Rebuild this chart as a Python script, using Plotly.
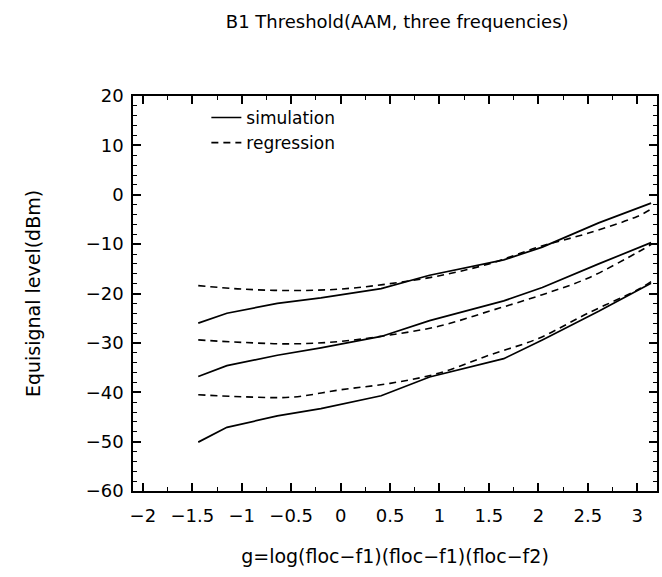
import plotly.graph_objects as go

# ---- data ----
sim_x = [-1.44, -1.15, -0.64, -0.20, 0.41, 0.90, 1.65, 2.04, 2.61, 3.14]
sim_top = [-26.0, -24.0, -22.0, -20.9, -19.0, -16.3, -13.2, -10.6, -5.7, -1.7]
sim_mid = [-36.8, -34.6, -32.5, -31.0, -28.7, -25.5, -21.5, -18.8, -14.0, -9.7]
sim_bot = [-50.1, -47.1, -44.8, -43.3, -40.7, -36.9, -33.2, -29.4, -23.6, -17.9]

reg_x = [-1.44, -1.0, -0.5, 0.0, 0.5, 1.0, 1.5, 2.0, 2.5, 3.0, 3.14]
reg_top = [-18.4, -19.1, -19.4, -19.1, -18.0, -16.4, -14.0, -10.6, -7.8, -4.4, -2.9]
reg_mid = [-29.4, -29.9, -30.2, -29.7, -28.4, -26.6, -23.6, -20.5, -16.9, -11.7, -10.1]
reg_bot = [-40.5, -40.9, -41.0, -39.5, -38.2, -36.1, -32.5, -29.1, -24.0, -19.3, -17.6]

x_ticks = [-2, -1.5, -1, -0.5, 0, 0.5, 1, 1.5, 2, 2.5, 3]
x_ticklabels = ["\u22122", "\u22121.5", "\u22121", "\u22120.5", "0", "0.5", "1", "1.5", "2", "2.5", "3"]
y_ticks = [20, 10, 0, -10, -20, -30, -40, -50, -60]
y_ticklabels = ["20", "10", "0", "\u221210", "\u221220", "\u221230", "\u221240", "\u221250", "\u221260"]

FONT = "DejaVu Sans"
fig = go.Figure()

for i, ys in enumerate([sim_top, sim_mid, sim_bot]):
    fig.add_trace(go.Scatter(x=sim_x, y=ys, mode="lines", name="simulation",
                             line=dict(color="black", width=1.7),
                             showlegend=(i == 0), legendgroup="sim"))
for i, ys in enumerate([reg_top, reg_mid, reg_bot]):
    fig.add_trace(go.Scatter(x=reg_x, y=ys, mode="lines", name="regression",
                             line=dict(color="black", width=1.6, dash="7px,5px"),
                             line_shape="spline",
                             showlegend=(i == 0), legendgroup="reg"))

axis_common = dict(showgrid=False, zeroline=False, showline=True, linecolor="black",
                   linewidth=1.5, mirror="ticks", ticks="inside", ticklen=8,
                   tickwidth=1.5, tickcolor="black",
                   tickfont=dict(family=FONT, size=18, color="black"))

fig.update_xaxes(range=[-2.1, 3.2], tickvals=x_ticks, ticktext=x_ticklabels,
                 ticklabelstandoff=8,
                 minor=dict(dtick=0.25, tick0=0, ticks="inside", ticklen=4, tickcolor="black", tickwidth=1.2),
                 title=dict(text="g=log(floc\u2212f1)(floc\u2212f1)(floc\u2212f2)",
                            font=dict(family=FONT, size=19, color="black"), standoff=24),
                 **axis_common)
fig.update_yaxes(range=[-60, 20], tickvals=y_ticks, ticktext=y_ticklabels,
                 ticklabelstandoff=4,
                 minor=dict(dtick=2, tick0=0, ticks="inside", ticklen=4, tickcolor="black", tickwidth=1.2),
                 title=dict(text="Equisignal level(dBm)",
                            font=dict(family=FONT, size=19, color="black"), standoff=40),
                 **axis_common)

fig.update_layout(
    width=662, height=577,
    paper_bgcolor="white", plot_bgcolor="white",
    margin=dict(l=133, r=3, t=96, b=86),
    title=dict(text="B1 Threshold(AAM, three frequencies)", x=0.6, xanchor="center",
               y=0.962, yanchor="middle",
               font=dict(family=FONT, size=18, color="black")),
    legend=dict(x=0.14, y=0.99, xanchor="left", yanchor="top",
                bgcolor="rgba(0,0,0,0)", borderwidth=0,
                font=dict(family=FONT, size=17, color="black"),
                tracegroupgap=0),
)

fig.write_html("out.html")
